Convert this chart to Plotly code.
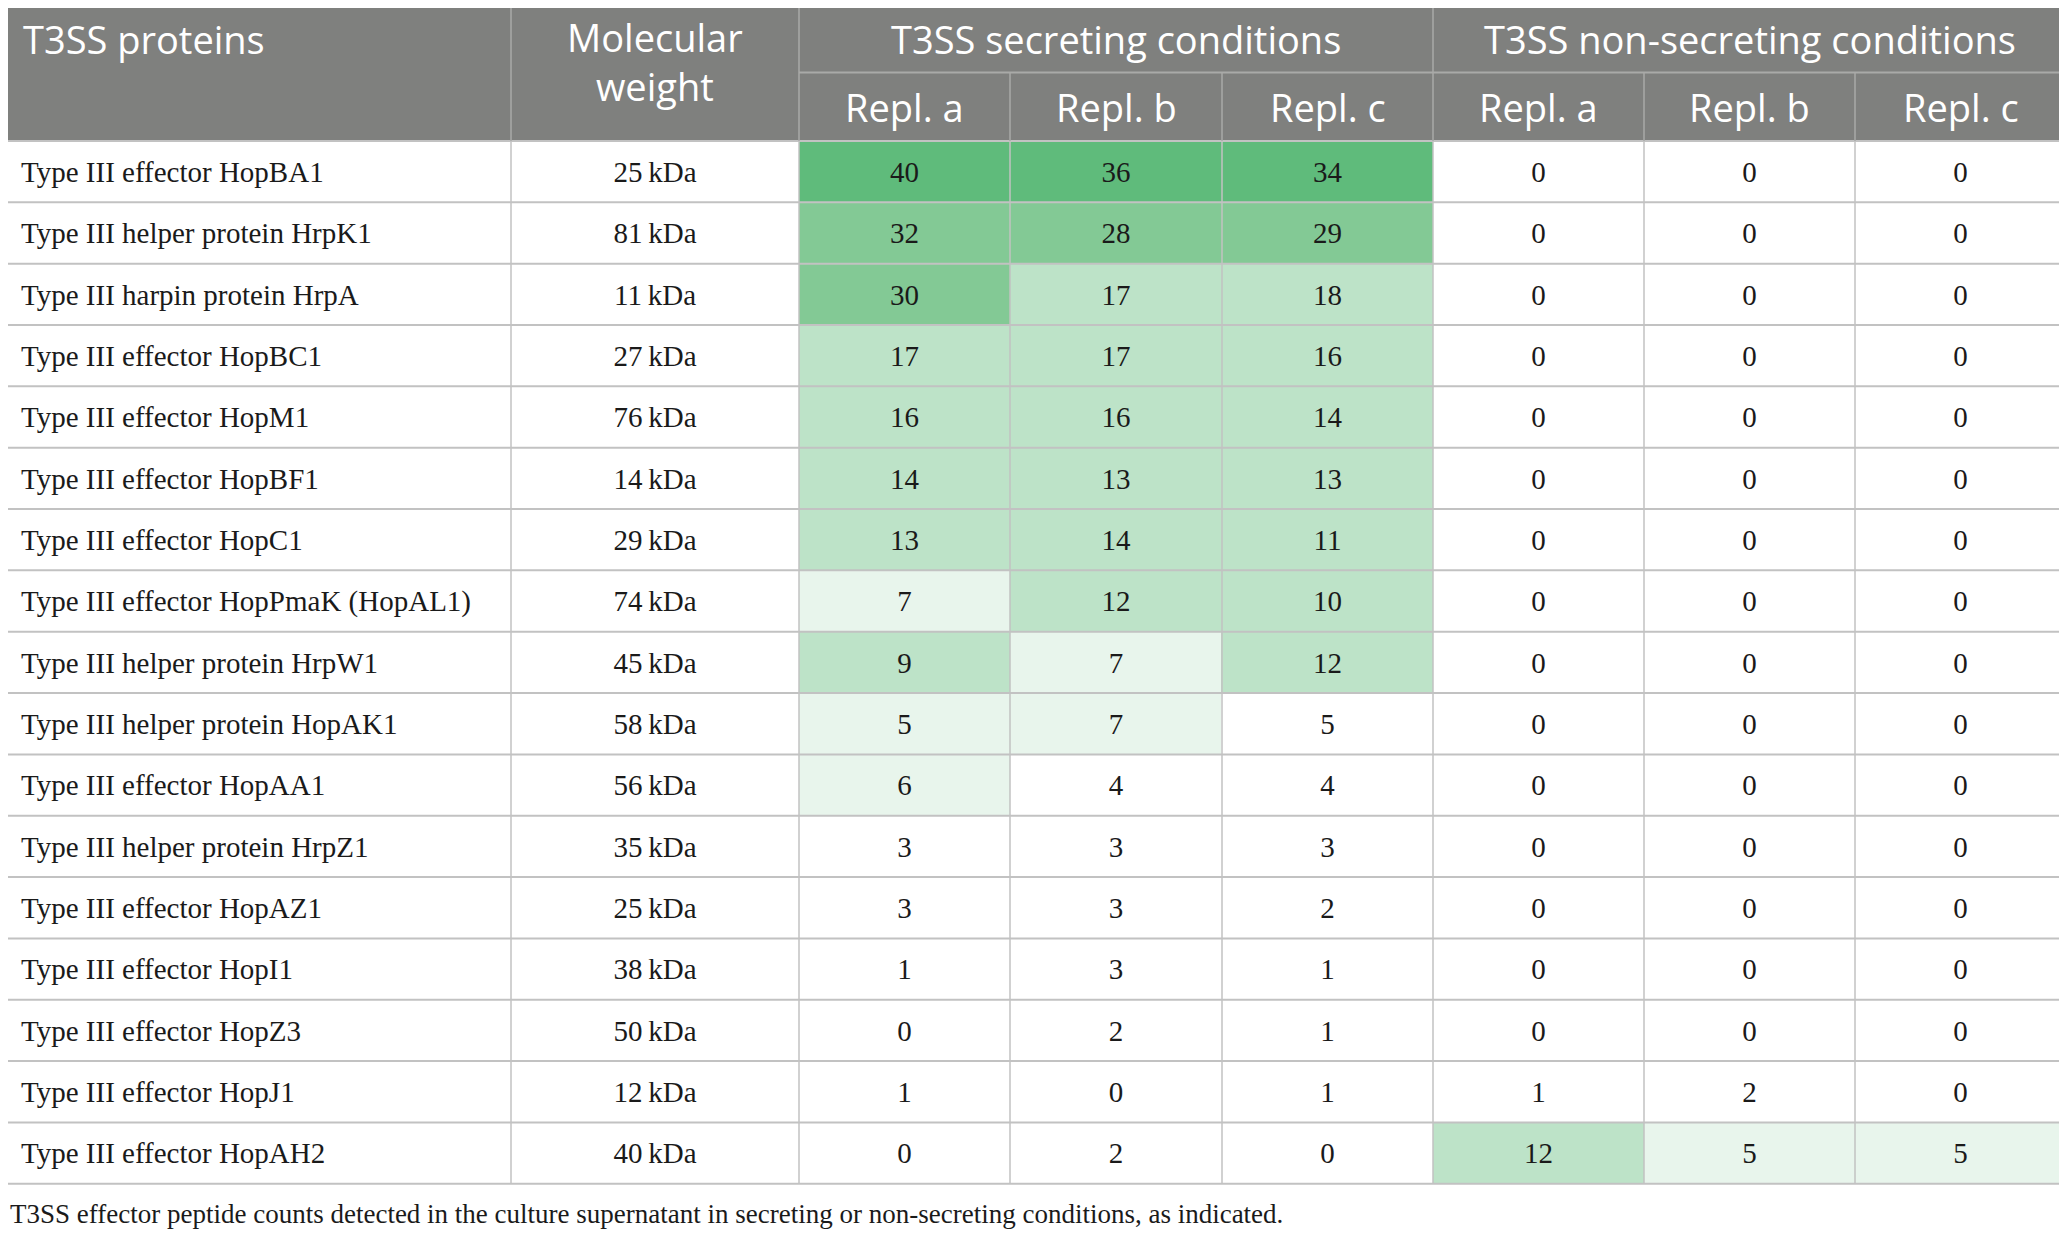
import plotly.graph_objects as go

# table content
proteins = [
    "Type III effector HopBA1", "Type III helper protein HrpK1", "Type III harpin protein HrpA",
    "Type III effector HopBC1", "Type III effector HopM1", "Type III effector HopBF1",
    "Type III effector HopC1", "Type III effector HopPmaK (HopAL1)", "Type III helper protein HrpW1",
    "Type III helper protein HopAK1", "Type III effector HopAA1", "Type III helper protein HrpZ1",
    "Type III effector HopAZ1", "Type III effector HopI1", "Type III effector HopZ3",
    "Type III effector HopJ1", "Type III effector HopAH2",
]
mol_weight_kda = [25, 81, 11, 27, 76, 14, 29, 74, 45, 58, 56, 35, 25, 38, 50, 12, 40]

sec_a = [40, 32, 30, 17, 16, 14, 13, 7, 9, 5, 6, 3, 3, 1, 0, 1, 0]
sec_b = [36, 28, 17, 17, 16, 13, 14, 12, 7, 7, 4, 3, 3, 3, 2, 0, 2]
sec_c = [34, 29, 18, 16, 14, 13, 11, 10, 12, 5, 4, 3, 2, 1, 1, 1, 0]
non_a = [0, 0, 0, 0, 0, 0, 0, 0, 0, 0, 0, 0, 0, 0, 0, 1, 12]
non_b = [0, 0, 0, 0, 0, 0, 0, 0, 0, 0, 0, 0, 0, 0, 0, 2, 5]
non_c = [0, 0, 0, 0, 0, 0, 0, 0, 0, 0, 0, 0, 0, 0, 0, 0, 5]

# shading level of each cell as printed (0 = none ... 4 = darkest)
shade_sec_a = [4, 3, 3, 2, 2, 2, 2, 1, 2, 1, 1, 0, 0, 0, 0, 0, 0]
shade_sec_b = [4, 3, 2, 2, 2, 2, 2, 2, 1, 1, 0, 0, 0, 0, 0, 0, 0]
shade_sec_c = [4, 3, 2, 2, 2, 2, 2, 2, 2, 0, 0, 0, 0, 0, 0, 0, 0]
shade_non_a = [0, 0, 0, 0, 0, 0, 0, 0, 0, 0, 0, 0, 0, 0, 0, 0, 2]
shade_non_b = [0, 0, 0, 0, 0, 0, 0, 0, 0, 0, 0, 0, 0, 0, 0, 0, 1]
shade_non_c = [0, 0, 0, 0, 0, 0, 0, 0, 0, 0, 0, 0, 0, 0, 0, 0, 1]

col_headers = ["T3SS proteins", "Molecular<br>weight"]
group_headers = ["T3SS secreting conditions", "T3SS non-secreting conditions"]
repl_labels = ["Repl. a", "Repl. b", "Repl. c"]
caption = ("T3SS effector peptide counts detected in the culture supernatant "
           "in secreting or non-secreting conditions, as indicated.")

# layout of the grid (page has an 8px body margin, so the axes are offset by it)
col_edges = [0, 511, 799, 1010, 1222, 1433, 1644, 1855, 2066]
head_top, head_mid = -2.217, -1.117
n_rows = len(proteins)

HEAD_BG = "#7f807e"
HEAD_LINE = "#a9aaa8"
GRID = "#c2c2c2"
SERIF = "Liberation Serif"
SANS = "Open Sans"
INK = "#1a1a1a"

count_cols = [sec_a, sec_b, sec_c, non_a, non_b, non_c]
shade_cols = [shade_sec_a, shade_sec_b, shade_sec_c, shade_non_a, shade_non_b, shade_non_c]

z = [[shade_cols[j][i] for j in range(6)] for i in range(n_rows)]
scale = [[0, "#ffffff"], [0.125, "#ffffff"], [0.125, "#e8f5ec"], [0.375, "#e8f5ec"],
         [0.375, "#bde3c8"], [0.625, "#bde3c8"], [0.625, "#83c995"], [0.875, "#83c995"],
         [0.875, "#5fbb7b"], [1, "#5fbb7b"]]

fig = go.Figure()
fig.add_trace(go.Heatmap(
    z=z, x=col_edges[2:], y=list(range(n_rows + 1)),
    zmin=0, zmax=4, colorscale=scale, showscale=False, hoverinfo="skip",
))

centers = [(col_edges[k] + col_edges[k + 1]) / 2 for k in range(len(col_edges) - 1)]
row_y = [i + 0.55 for i in range(n_rows)]
body_font = dict(family=SERIF, size=29, color=INK)

# protein names
fig.add_trace(go.Scatter(
    x=[21] * n_rows, y=row_y, text=proteins, mode="text", textposition="middle right",
    textfont=body_font, hoverinfo="skip",
))
# molecular weight
fig.add_trace(go.Scatter(
    x=[centers[1]] * n_rows, y=row_y, text=[f"{w}\u2009kDa" for w in mol_weight_kda],
    mode="text", textposition="middle center", textfont=body_font, hoverinfo="skip",
))
# peptide counts
for j, vals in enumerate(count_cols):
    fig.add_trace(go.Scatter(
        x=[centers[j + 2]] * n_rows, y=row_y, text=[str(v) for v in vals],
        mode="text", textposition="middle center", textfont=body_font, hoverinfo="skip",
    ))

shapes = []
# header block
shapes.append(dict(type="rect", x0=col_edges[0], x1=col_edges[-1], y0=head_top, y1=0,
                   fillcolor=HEAD_BG, line=dict(width=0), layer="above"))
# body grid
for i in range(n_rows + 1):
    shapes.append(dict(type="line", x0=col_edges[0], x1=col_edges[-1], y0=i, y1=i,
                       line=dict(color=GRID, width=2), layer="above"))
for xe in col_edges:
    shapes.append(dict(type="line", x0=xe, x1=xe, y0=0, y1=n_rows,
                       line=dict(color=GRID, width=1.5), layer="above"))
# header dividers
for xe in [col_edges[1], col_edges[2], col_edges[5]]:
    shapes.append(dict(type="line", x0=xe, x1=xe, y0=head_top, y1=0,
                       line=dict(color=HEAD_LINE, width=1.5), layer="above"))
for xe in [col_edges[3], col_edges[4], col_edges[6], col_edges[7]]:
    shapes.append(dict(type="line", x0=xe, x1=xe, y0=head_mid, y1=0,
                       line=dict(color=HEAD_LINE, width=1.5), layer="above"))
shapes.append(dict(type="line", x0=col_edges[2], x1=col_edges[-1], y0=head_mid, y1=head_mid,
                   line=dict(color=HEAD_LINE, width=2), layer="above"))
shapes.append(dict(type="line", x0=col_edges[0], x1=col_edges[-1], y0=head_top, y1=head_top,
                   line=dict(color="#b8b8b8", width=2), layer="above"))

hfont = dict(family=SANS, size=38, color="white")
top_y = (head_top + head_mid) / 2
low_y = head_mid / 2
ann = [
    dict(x=21, y=top_y, text=col_headers[0], xanchor="left"),
    dict(x=centers[1], y=-1.3, text=col_headers[1], xanchor="center"),
    dict(x=(col_edges[2] + col_edges[5]) / 2, y=top_y, text=group_headers[0], xanchor="center"),
    dict(x=(col_edges[5] + col_edges[8]) / 2, y=top_y, text=group_headers[1], xanchor="center"),
]
for k in range(6):
    ann.append(dict(x=centers[k + 2], y=low_y, text=repl_labels[k % 3], xanchor="center"))
for a in ann:
    a.update(xref="x", yref="y", showarrow=False, yanchor="middle", font=hfont)
ann.append(dict(x=0, y=17.49, xref="paper", yref="y", text=caption, showarrow=False,
                xanchor="left", yanchor="middle",
                font=dict(family=SERIF, size=27, color=INK)))

fig.update_layout(
    width=2059, height=1229, margin=dict(l=0, r=0, t=0, b=0),
    paper_bgcolor="white", plot_bgcolor="white", showlegend=False,
    shapes=shapes, annotations=ann,
)
fig.update_xaxes(range=[8, 2067], visible=False, fixedrange=True)
fig.update_yaxes(range=[17.868, -2.168], visible=False, fixedrange=True)

fig.write_html("out.html")
